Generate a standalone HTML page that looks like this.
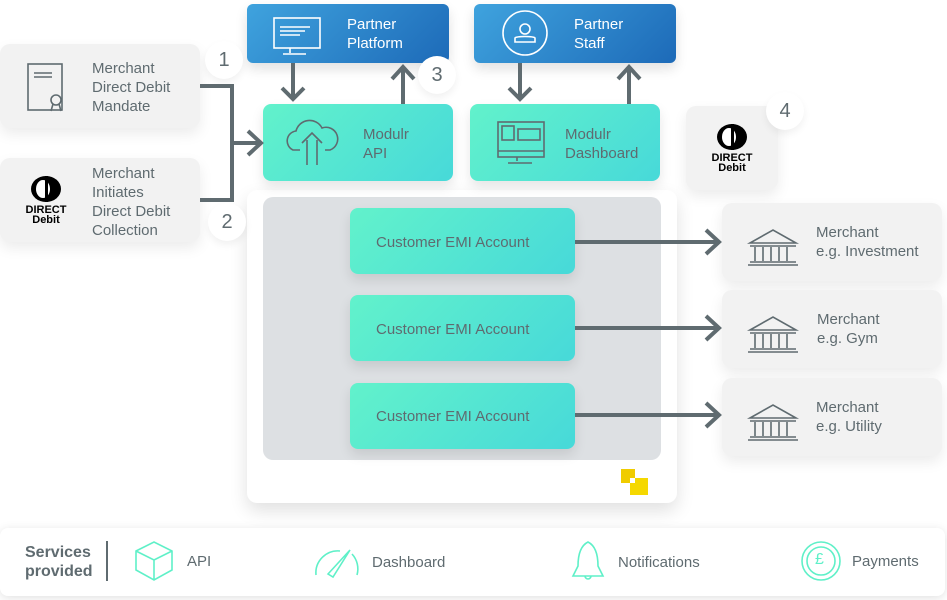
<!DOCTYPE html>
<html><head><meta charset="utf-8"><style>
body{margin:0;width:947px;height:600px;background:#fff;position:relative;overflow:hidden;font-family:"Liberation Sans",sans-serif;color:#5f6b70}
.a{position:absolute;box-sizing:border-box}
.g{background:#f2f2f2;border-radius:10px;box-shadow:0 6px 14px rgba(0,0,0,.08)}
.b{background:linear-gradient(135deg,#3fa3de,#1d6ab8);border-radius:6px;color:#fff;box-shadow:0 6px 12px rgba(0,0,0,.12)}
.t{background:linear-gradient(135deg,#62f2cb,#47d9d9);border-radius:8px;box-shadow:0 6px 12px rgba(0,0,0,.10)}
.tx{position:absolute;font-size:15px;line-height:19px}
.c{position:absolute;width:38px;height:38px;border-radius:50%;background:#fff;font-size:20px;text-align:center;line-height:38px;color:#5f6b70;box-shadow:0 4px 8px rgba(0,0,0,.06)}
</style></head><body>
<div class="a" style="left:247px;top:190px;width:430px;height:313px;background:#fff;border-radius:10px;box-shadow:0 8px 18px rgba(0,0,0,.12)"></div>
<div class="a" style="left:263px;top:197px;width:398px;height:263px;background:#dde0e3;border-radius:10px"></div>

<div class="a g" style="left:0;top:44px;width:200px;height:84px"></div>
<div class="tx" style="left:92px;top:59px">Merchant<br>Direct Debit<br>Mandate</div>
<div class="a g" style="left:0;top:158px;width:200px;height:84px"></div>
<div class="tx" style="left:92px;top:164px">Merchant<br>Initiates<br>Direct Debit<br>Collection</div>

<div class="a b" style="left:247px;top:4px;width:202px;height:59px"></div>
<div class="tx" style="left:347px;top:15px;color:#fff">Partner<br>Platform</div>
<div class="a b" style="left:474px;top:4px;width:202px;height:59px"></div>
<div class="tx" style="left:574px;top:15px;color:#fff">Partner<br>Staff</div>

<div class="a t" style="left:263px;top:104px;width:190px;height:77px"></div>
<div class="tx" style="left:363px;top:125px">Modulr<br>API</div>
<div class="a t" style="left:470px;top:104px;width:190px;height:77px"></div>
<div class="tx" style="left:565px;top:125px">Modulr<br>Dashboard</div>

<div class="a t" style="left:350px;top:208px;width:225px;height:66px"></div>
<div class="tx" style="left:376px;top:233px">Customer EMI Account</div>
<div class="a t" style="left:350px;top:295px;width:225px;height:66px"></div>
<div class="tx" style="left:376px;top:320px">Customer EMI Account</div>
<div class="a t" style="left:350px;top:383px;width:225px;height:66px"></div>
<div class="tx" style="left:376px;top:407px">Customer EMI Account</div>

<div class="a g" style="left:686px;top:106px;width:92px;height:84px"></div>
<div class="a g" style="left:722px;top:203px;width:220px;height:78px"></div>
<div class="tx" style="left:816px;top:223px">Merchant<br>e.g. Investment</div>
<div class="a g" style="left:722px;top:290px;width:220px;height:78px"></div>
<div class="tx" style="left:817px;top:310px">Merchant<br>e.g. Gym</div>
<div class="a g" style="left:722px;top:378px;width:220px;height:78px"></div>
<div class="tx" style="left:816px;top:398px">Merchant<br>e.g. Utility</div>

<div class="c" style="left:205px;top:41px">1</div>
<div class="c" style="left:208px;top:203px">2</div>
<div class="c" style="left:418px;top:56px">3</div>
<div class="c" style="left:766px;top:92px">4</div>

<div class="a" style="left:20px;top:176px;width:52px;text-align:center;color:#000;font-weight:bold;font-size:11px;line-height:10px">
<div style="width:30px;height:26px;border-radius:50%;background:#000;margin:0 auto 3px;position:relative"><div style="position:absolute;left:5px;top:4px;width:14px;height:18px;border-radius:50%;background:#fff"></div><div style="position:absolute;left:14px;top:0;width:3px;height:26px;background:#000"></div></div>DIRECT<br>Debit</div>
<div class="a" style="left:706px;top:124px;width:52px;text-align:center;color:#000;font-weight:bold;font-size:11px;line-height:10px">
<div style="width:30px;height:26px;border-radius:50%;background:#000;margin:0 auto 3px;position:relative"><div style="position:absolute;left:5px;top:4px;width:14px;height:18px;border-radius:50%;background:#fff"></div><div style="position:absolute;left:14px;top:0;width:3px;height:26px;background:#000"></div></div>DIRECT<br>Debit</div>

<svg class="a" style="left:0;top:0" width="947" height="600" fill="none" stroke="#5f6b70" stroke-width="4">
<path d="M200 86H232V200H200M232 143H260M248 131L261 143L248 155"/>
<path d="M293 63V99M282 88L293 99L304 88M403 104V68M392 79L403 67L414 79"/>
<path d="M520 63V99M509 88L520 99L531 88M629 104V68M618 79L629 67L640 79"/>
<path d="M575 242H718M706 230L719 242L706 254M575 328H718M706 316L719 328L706 340M575 415H718M706 403L719 415L706 427"/>
<g stroke-width="1.6">
<rect x="28" y="64" width="34" height="46"/><path d="M34 73H52M34 77H52"/><circle cx="56" cy="100" r="5"/><path d="M53 104L51 111M59 104L61 111"/>
<rect x="274" y="18" width="46" height="30" stroke="#fff"/><path d="M290 48V53M283 54H306M280 27H310M280 31H305M280 35H300" stroke="#fff"/>
<circle cx="525" cy="33" r="22" stroke="#fff"/><circle cx="525" cy="29" r="5" stroke="#fff"/><path d="M515 42H535V38C535 36 515 36 515 38Z" stroke="#fff"/>
<path d="M300 150H293A10 10 0 0 1 296 131A14 14 0 0 1 322 128A10 10 0 0 1 330 150H325M307 165V140M317 165V140M302 143L312 133L322 143"/>
<rect x="498" y="122" width="46" height="35"/><rect x="502" y="126" width="12" height="14"/><rect x="518" y="129" width="22" height="11"/><path d="M498 151H544M517 157V161M508 163H532"/>
<g id="bk"><path d="M750 243L773 230L796 243ZM750 246H796M750 262H796M748 265H798M755 247V261M763 247V261M771 247V261M779 247V261M787 247V261"/></g>
<use href="#bk" y="87"/><use href="#bk" y="175"/>
</g>
</svg>
<div class="a" style="left:621px;top:469px;width:14px;height:14px;background:#f0cc00"></div>
<div class="a" style="left:630px;top:478px;width:18px;height:17px;background:#f5d800"></div>
<div class="a" style="left:630px;top:478px;width:5px;height:5px;background:#fff"></div>

<div class="a" style="left:0;top:528px;width:945px;height:68px;background:#fff;border-radius:8px;box-shadow:0 2px 10px rgba(0,0,0,.12)"></div>
<div class="tx" style="left:25px;top:543px;font-weight:bold;font-size:16px">Services<br>provided</div>
<div class="a" style="left:106px;top:541px;width:2px;height:40px;background:#5f6b70"></div>
<div class="tx" style="left:187px;top:552px">API</div>
<div class="tx" style="left:372px;top:553px">Dashboard</div>
<div class="tx" style="left:618px;top:553px">Notifications</div>
<div class="tx" style="left:852px;top:552px">Payments</div>
<svg class="a" style="left:0;top:528px" width="947" height="68" fill="none" stroke="#5ff0c8" stroke-width="1.6">
<path d="M136 23L154 14L172 23V42L154 52L136 42ZM136 23L154 32L172 23M154 32V52"/>
<path d="M316 47A22 22 0 0 1 340 23M352 26A22 22 0 0 1 357 47M328 46L350 22L333 49Z"/>
<path d="M588 14C580 18 578 28 578 38L573 48H603L598 38C598 28 596 18 588 14ZM585 48A3 3 0 0 0 591 48"/>
<circle cx="821" cy="33" r="19"/><circle cx="821" cy="33" r="14"/>
</svg>
<div class="a" style="left:815px;top:550px;color:#5ff0c8;font-size:16px;line-height:20px">£</div>
</body></html>
